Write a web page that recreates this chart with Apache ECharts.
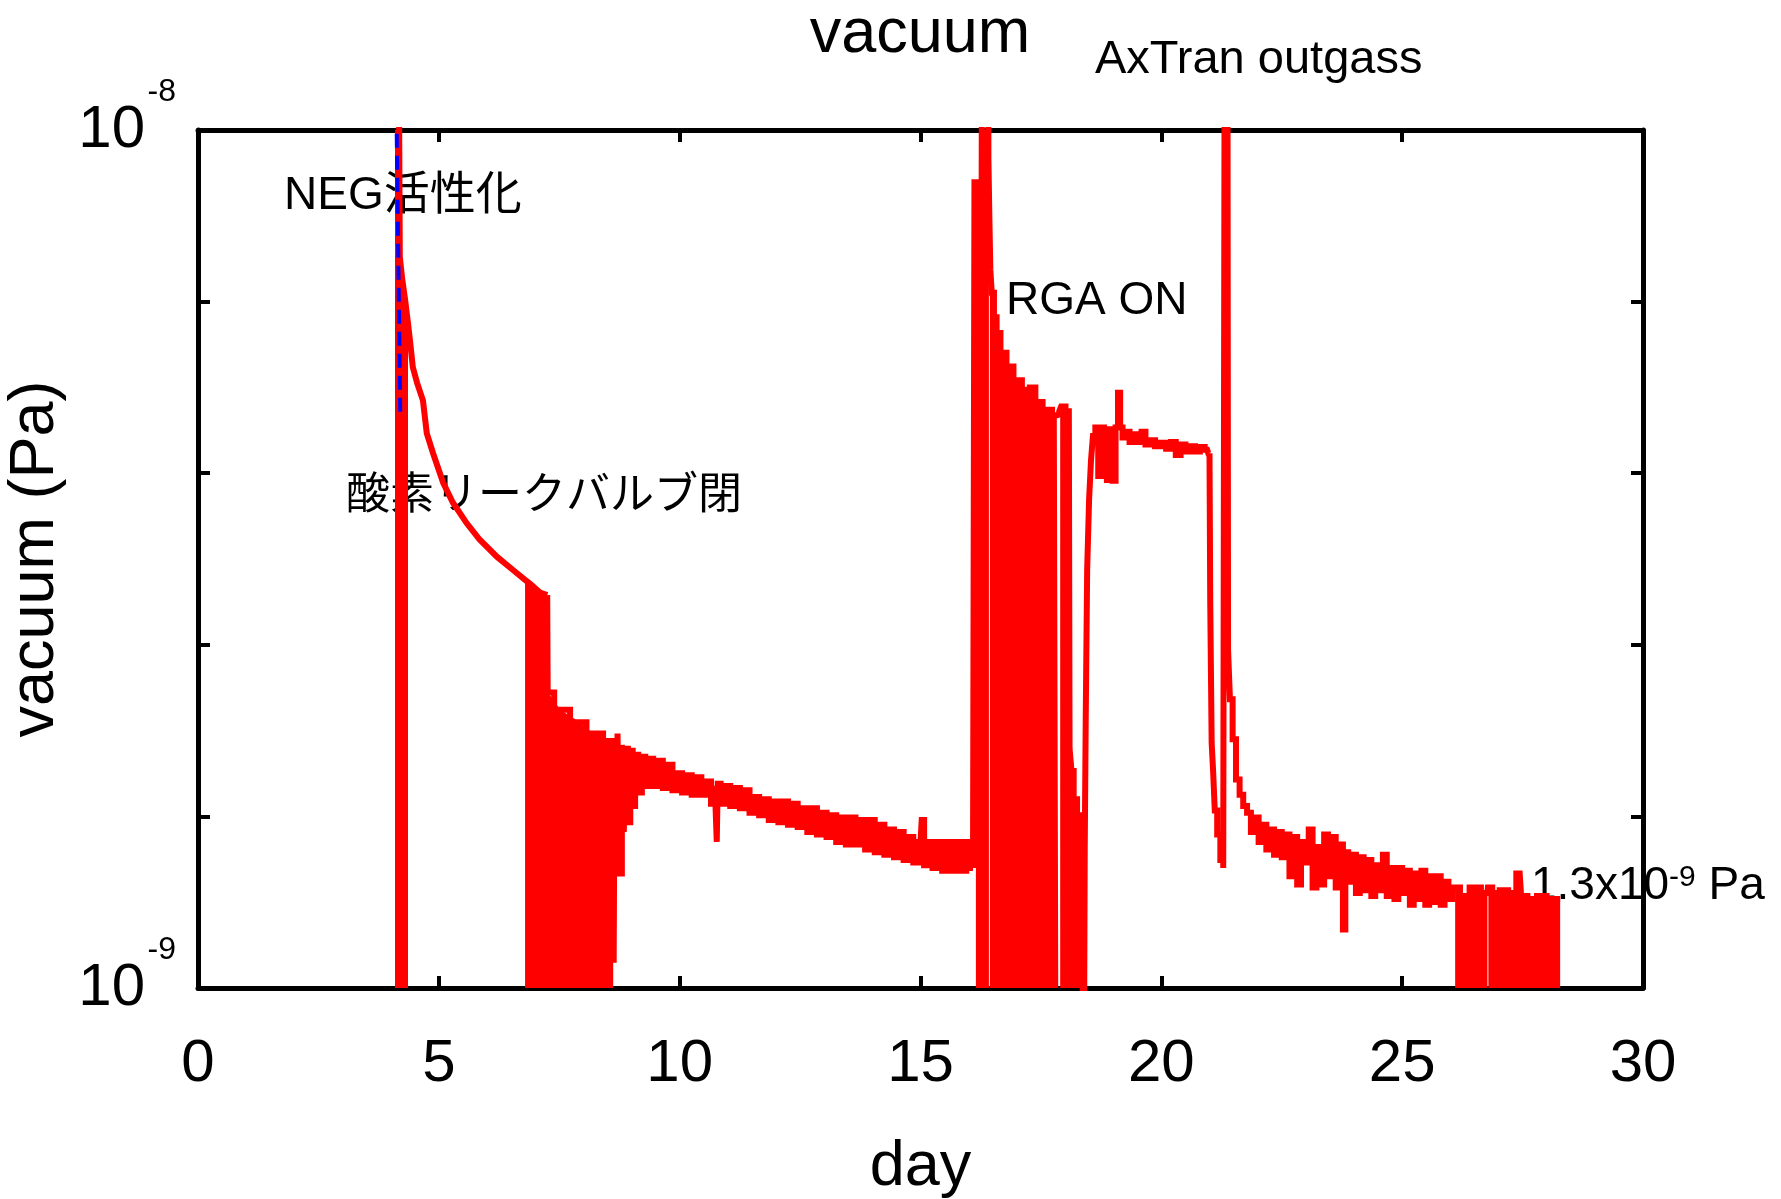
<!DOCTYPE html>
<html>
<head>
<meta charset="utf-8">
<title>vacuum</title>
<script src="https://cdn.jsdelivr.net/npm/echarts@6/dist/echarts.min.js"></script>
<style>
	html, body { margin: 0; padding: 0; background: #fff; }
	#chart { width: 1781px; height: 1199px; }
</style>
</head>
<body>
<div id="chart"></div>
<script>
// 経過日数 / 真空度 (単位 1e-9 Pa)、区間ごと
// NEG活性化後の排気
var negDays = [4.09, 4.15, 4.19, 4.24, 4.30, 4.36, 4.40, 4.46, 4.55, 4.67, 4.75, 4.88, 5.09, 5.29, 5.58, 5.85, 6.21, 6.54, 6.79, 6.89, 7.10, 7.25];
var negP = [20, 20, 7.11, 6.70, 6.34, 5.95, 5.69, 5.29, 5.07, 4.84, 4.43, 4.20, 3.88, 3.68, 3.48, 3.33, 3.18, 3.07, 2.99, 2.96, 2.89, 2.87];

// 酸素リークバルブ閉 以降
var baseDays = [7.27, 7.52, 7.93, 8.20, 8.62, 8.64, 8.66, 8.70, 8.72, 8.78, 8.82, 8.86, 8.90, 8.95, 9.00, 9.05, 9.10, 9.18, 9.25, 9.32,
	9.40, 9.50, 9.60, 9.70, 9.80, 9.90, 10.00, 10.10, 10.20, 10.30, 10.40, 10.50, 10.60, 10.70, 10.76, 10.78, 10.80, 10.90,
	11.00, 11.10, 11.20, 11.30, 11.40, 11.50, 11.60, 11.70, 11.80, 11.90, 12.00, 12.10, 12.20, 12.30, 12.40, 12.50, 12.60, 12.70, 12.80, 12.90,
	13.00, 13.10, 13.20, 13.30, 13.40, 13.50, 13.60, 13.70, 13.80, 13.90, 14.00, 14.10, 14.20, 14.30, 14.40, 14.50, 14.60, 14.70, 14.80, 14.90,
	15.00, 15.05, 15.10, 15.20, 15.30, 15.40, 15.50, 15.60, 15.70, 15.80, 15.90, 16.00, 16.09];
var baseP = [2.21, 2.11, 2.04, 1.98, 1.94, 1.07, 1.93, 1.35, 1.98, 1.36, 1.92, 1.52, 1.90, 1.56, 1.89, 1.63, 1.87, 1.69, 1.86, 1.72,
	1.85, 1.72, 1.84, 1.71, 1.82, 1.70, 1.78, 1.69, 1.77, 1.68, 1.76, 1.68, 1.74, 1.64, 1.72, 1.48, 1.73, 1.64,
	1.72, 1.63, 1.71, 1.62, 1.70, 1.60, 1.67, 1.59, 1.66, 1.57, 1.65, 1.56, 1.65, 1.55, 1.64, 1.54, 1.62, 1.52, 1.62, 1.51,
	1.60, 1.50, 1.59, 1.48, 1.58, 1.47, 1.58, 1.47, 1.57, 1.45, 1.57, 1.44, 1.55, 1.43, 1.53, 1.42, 1.52, 1.41, 1.50, 1.40,
	1.48, 1.57, 1.39, 1.48, 1.38, 1.48, 1.37, 1.48, 1.37, 1.48, 1.37, 1.48, 1.38];

// RGA ON
var rgaDays = [16.15, 16.27, 16.29, 16.40, 16.42, 16.44, 16.46, 16.50, 16.55, 16.61, 16.71, 16.86, 17.00, 17.21, 17.33, 17.44, 17.63, 17.83, 17.86, 17.90, 17.94, 18.08,
	18.11, 18.16, 18.20, 18.30, 18.36, 18.40, 18.42, 18.44, 18.48, 18.52, 18.56, 18.60, 18.66, 18.72, 18.78, 18.84, 18.90, 18.96, 19.02, 19.08, 19.12, 19.17, 19.22,
	19.30, 19.38, 19.46, 19.55, 19.62, 19.72, 19.82, 19.92, 20.05, 20.15, 20.25, 20.35, 20.45, 20.55, 20.65, 20.75, 20.85, 20.95, 21.00];
var rgaP = [8.69, 8.69, 20, 20, 9.27, 7.90, 6.87, 6.46, 6.05, 5.80, 5.50, 5.30, 5.11, 4.98, 5.01, 4.82, 4.72, 4.65, 4.66, 4.70, 4.76, 4.70,
	1.90, 1.79, 1.66, 1.59, 1.59, 0.5, 1.46, 2.05, 3.07, 3.71, 4.12, 4.40, 4.50, 3.95, 4.50, 4.45, 3.91, 4.48, 3.90, 4.50, 4.94, 4.50, 4.38,
	4.45, 4.33, 4.42, 4.33, 4.45, 4.30, 4.35, 4.28, 4.32, 4.25, 4.33, 4.18, 4.30, 4.22, 4.28, 4.22, 4.27, 4.24, 4.20];

// AxTran outgass 以降
var axDays = [21.03, 21.06, 21.09, 21.13, 21.19, 21.26, 21.31, 21.33, 21.37, 21.40, 21.45, 21.51, 21.59, 21.66, 21.74, 21.82, 21.90, 21.98,
	22.06, 22.14, 22.22, 22.30, 22.38, 22.46, 22.54, 22.62, 22.70, 22.78, 22.86, 22.94, 23.02, 23.10, 23.18, 23.26, 23.34, 23.42, 23.50, 23.58, 23.66, 23.74, 23.80, 23.84, 23.92,
	24.00, 24.08, 24.16, 24.24, 24.32, 24.40, 24.48, 24.56, 24.64, 24.72, 24.80, 24.88, 24.96, 25.04, 25.12, 25.20, 25.28, 25.36, 25.44, 25.52, 25.60, 25.68, 25.76, 25.84, 25.92,
	26.00, 26.10, 26.30, 26.50, 26.77, 26.79, 26.95, 27.10, 27.30, 27.44, 27.50, 27.70, 27.90, 28.10, 28.28];
var axP = [2.83, 1.93, 1.79, 1.61, 1.51, 1.41, 1.38, 20, 20, 2.48, 2.17, 1.95, 1.75, 1.68, 1.63, 1.60, 1.52, 1.58,
	1.48, 1.55, 1.45, 1.53, 1.43, 1.52, 1.42, 1.51, 1.35, 1.50, 1.32, 1.48, 1.40, 1.53, 1.31, 1.46, 1.32, 1.51, 1.35, 1.50, 1.31, 1.47, 1.17, 1.44, 1.33,
	1.43, 1.29, 1.42, 1.30, 1.41, 1.28, 1.39, 1.30, 1.43, 1.28, 1.38, 1.27, 1.38, 1.29, 1.37, 1.25, 1.36, 1.27, 1.37, 1.25, 1.35, 1.26, 1.35, 1.25, 1.33,
	1.27, 1.31, 1.28, 1.31, 1.29, 1.31, 1.29, 1.30, 1.29, 1.36, 1.28, 1.27, 1.28, 1.27, 1.27];

// 測定範囲外に落ちている区間 (下端まで塗りつぶし)
var dropStart = [4.09, 6.79, 16.15, 16.44, 17.90, 26.10, 26.79];
var dropEnd = [4.36, 8.62, 16.42, 17.86, 18.40, 26.77, 28.28];

// 青の破線
var blueDays = [4.12, 4.20];
var blueP = [10.5, 4.63];

// 軸
var yDecades = [-9, -8];
var xTicks = [0, 5, 10, 15, 20, 25, 30];

var FONT = "'Liberation Sans', Arial, Helvetica, sans-serif";
var FONT_JP = "'Liberation Sans', Arial, 'Noto Sans CJK JP', sans-serif";

function toLog(p) {
	return Math.log10(p * 1e-9);
}

function zip(d, p) {
	return d.map(function (x, i) {
		return [x, toLog(p[i])];
	});
}

var negData = zip(negDays, negP);
var baseData = zip(baseDays, baseP);
var rgaData = zip(rgaDays, rgaP);
var axData = zip(axDays, axP);
var mainData = negData.concat(baseData, rgaData, axData);

// 区間ごとに塗りつぶし用のシリーズを作る
var dropSeries = dropStart.map(function (s, k) {
	var pts = mainData.filter(function (pt) {
		return pt[0] >= s - 1e-6 && pt[0] <= dropEnd[k] + 1e-6;
	});
	return {
		name: "dropout" + k,
		type: "line",
		data: pts,
		showSymbol: false,
		lineStyle: { width: 0 },
		areaStyle: { color: "#ff0000", opacity: 1, origin: "start" },
		z: 2
	};
});

// 赤線: 減衰部分は直線、ノイズの多い部分は階段状
function redLine(name, data, step) {
	return {
		name: name,
		type: "line",
		data: data,
		step: step,
		showSymbol: false,
		lineStyle: { color: "#ff0000", width: 6, join: "miter" },
		z: 3
	};
}

var blueData = zip(blueDays, blueP);

var myChart = echarts.init(document.getElementById("chart"), null, { renderer: "canvas" });

var tickStyle = { inside: true, length: 12, lineStyle: { color: "#000", width: 4 } };
var lineStyleAxis = { onZero: false, lineStyle: { color: "#000", width: 5 } };

var option = {
	animation: false,
	backgroundColor: "#fff",
	grid: { left: 198, right: 138, top: 130, bottom: 211, containLabel: false, outerBoundsMode: "none" },
	xAxis: [
		{
			type: "value",
			min: xTicks[0],
			max: xTicks[xTicks.length - 1],
			interval: 5,
			position: "bottom",
			axisLine: lineStyleAxis,
			axisTick: tickStyle,
			splitLine: { show: false },
			axisLabel: { fontSize: 60, fontFamily: FONT, color: "#000", margin: 46 },
			name: "day",
			nameLocation: "middle",
			nameGap: 148,
			nameTextStyle: { fontSize: 63, fontFamily: FONT, color: "#000" }
		},
		{
			type: "value",
			min: xTicks[0],
			max: xTicks[xTicks.length - 1],
			interval: 5,
			position: "top",
			axisLine: lineStyleAxis,
			axisTick: tickStyle,
			splitLine: { show: false },
			axisLabel: { show: false }
		}
	],
	yAxis: [
		{
			type: "value",
			min: yDecades[0],
			max: yDecades[1],
			interval: 0.2,
			position: "left",
			axisLine: lineStyleAxis,
			axisTick: tickStyle,
			splitLine: { show: false },
			axisLabel: {
				margin: 22,
				color: "#000",
				fontFamily: FONT,
				formatter: function (v) {
					var e = Math.round(v);
					if (Math.abs(v - e) > 1e-6 || yDecades.indexOf(e) < 0) return "";
					return "{s|" + e + "}\n{b|10}{p| }\n{e| }";
				},
				rich: {
					s: { fontSize: 32, lineHeight: 16, fontFamily: FONT, color: "#000" },
					b: { fontSize: 60, lineHeight: 60, fontFamily: FONT, color: "#000" },
					p: { fontSize: 60, lineHeight: 60, width: 31 },
					e: { fontSize: 10, lineHeight: 16 }
				}
			},
			name: "vacuum (Pa)",
			nameLocation: "middle",
			nameGap: 94,
			nameTextStyle: { fontSize: 63, fontFamily: FONT, color: "#000" }
		},
		{
			type: "value",
			min: yDecades[0],
			max: yDecades[1],
			interval: 0.2,
			position: "right",
			axisLine: lineStyleAxis,
			axisTick: tickStyle,
			splitLine: { show: false },
			axisLabel: { show: false }
		}
	],
	graphic: [
		{
			type: "text", x: 920, y: 35, z: 1,
			style: { text: "vacuum", fontSize: 63, fontFamily: FONT, fill: "#000", align: "center", verticalAlign: "middle" }
		},
		{
			type: "text", x: 1095, y: 60, z: 1,
			style: { text: "AxTran outgass", fontSize: 47, fontFamily: FONT, fill: "#000", align: "left", verticalAlign: "middle" }
		},
		{
			type: "text", x: 284, y: 196, z: 1,
			style: { text: "NEG活性化", fontSize: 46, fontFamily: FONT_JP, fill: "#000", align: "left", verticalAlign: "middle" }
		},
		{
			type: "text", x: 346, y: 497, z: 1,
			style: { text: "酸素リークバルブ閉", fontSize: 44, fontFamily: FONT_JP, fill: "#000", align: "left", verticalAlign: "middle" }
		},
		{
			type: "text", x: 1006, y: 301, z: 1,
			style: { text: "RGA ON", fontSize: 46, fontFamily: FONT, fill: "#000", align: "left", verticalAlign: "middle" }
		},
		{
			type: "text", x: 1531, y: 886, z: 1,
			style: {
				text: "1.3x10{s|-9} Pa",
				fontSize: 46, fontFamily: FONT, fill: "#000", align: "left", verticalAlign: "middle",
				rich: {
					s: { fontSize: 30, fontFamily: FONT, fill: "#000", verticalAlign: "top", padding: [0, 0, 6, 0] }
				}
			}
		}
	],
	series: dropSeries.concat([
		redLine("vacuum NEG", negData, false),
		redLine("vacuum base", [negData[negData.length - 1]].concat(baseData), "middle"),
		redLine("vacuum RGA", [baseData[baseData.length - 1]].concat(rgaData), "middle"),
		redLine("vacuum AxTran", [rgaData[rgaData.length - 1]].concat(axData), "middle"),
		{
			name: "NEG",
			type: "line",
			data: blueData,
			showSymbol: false,
			lineStyle: { color: "#0000ff", width: 4, type: [14, 8] },
			z: 4
		}
	])
};
myChart.setOption(option);
window.addEventListener("resize", myChart.resize);
</script>
</body>
</html>
